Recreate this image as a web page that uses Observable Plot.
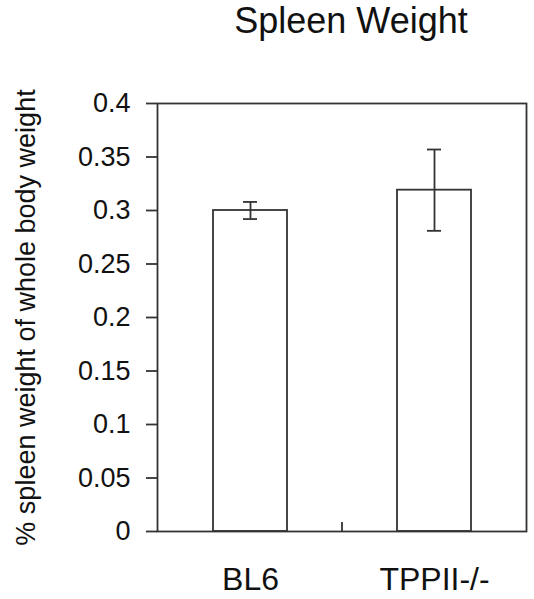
<!DOCTYPE html>
<html>
<head>
<meta charset="utf-8">
<script src="https://cdn.jsdelivr.net/npm/d3@7"></script>
<script src="https://cdn.jsdelivr.net/npm/@observablehq/plot@0.6"></script>
<style>
  html, body { margin: 0; padding: 0; background: #fff; }
  #title { width: 534px; height: 42px; line-height: 42px; box-sizing: border-box;
    padding-left: 168px; text-align: center; font-family: "Liberation Sans", Arial, sans-serif;
    font-size: 36px; color: #111; white-space: nowrap; }
</style>
</head>
<body>
<div id="title"></div>
<div id="chart"></div>
<script>
const title = "Spleen Weight";
const yLabel = "% spleen weight of whole body weight";
const categories = ["BL6", "TPPII-/-"];
const values = [0.300, 0.319];
const errors = [0.008, 0.038];
const yTicks = [0, 0.05, 0.1, 0.15, 0.2, 0.25, 0.3, 0.35, 0.4];

document.getElementById("title").textContent = title;

const data = categories.map((c, i) => ({
  cat: c, value: values[i], lo: values[i] - errors[i], hi: values[i] + errors[i]
}));

const ink = "#333";
const plot = Plot.plot({
  width: 534,
  height: 557,
  marginTop: 61,
  marginBottom: 68,
  marginLeft: 157,
  marginRight: 8,
  style: { fontFamily: "Liberation Sans, Arial, sans-serif", color: "#111", background: "#fff" },
  x: { domain: categories, paddingInner: 0.6, paddingOuter: 0.3, label: null },
  y: { domain: [0, 0.4], label: null },
  marks: [
    Plot.barY(data, { x: "cat", y: "value", fill: "white", stroke: ink, strokeWidth: 1.8 }),
    Plot.ruleX(data, { x: "cat", y1: "lo", y2: "hi", stroke: ink, strokeWidth: 1.8 }),
    Plot.tickY(data, { x: "cat", y: "lo", stroke: ink, strokeWidth: 1.8, insetLeft: 30, insetRight: 30 }),
    Plot.tickY(data, { x: "cat", y: "hi", stroke: ink, strokeWidth: 1.8, insetLeft: 30, insetRight: 30 }),
    Plot.frame({ stroke: ink, strokeWidth: 1.8 }),
    Plot.axisY({ ticks: yTicks, tickFormat: d => d3.format(".2~f")(d), tickSize: 11, tickPadding: 16,
      fontSize: 27, stroke: ink, strokeWidth: 1.8, label: null }),
    Plot.axisX({ tickSize: 0, tickPadding: 36, fontSize: 32, label: null }),
    Plot.text([yLabel], { frameAnchor: "left", rotate: -90, dx: -131, fontSize: 27, fill: "#111",
      textAnchor: "middle", lineAnchor: "middle" })
  ]
});

// category boundary tick on the x axis, derived from the band scale
const xs = plot.scale("x");
const ys = plot.scale("y");
const boundary = (xs.apply(categories[0]) + xs.bandwidth + xs.apply(categories[1])) / 2;
const y0 = ys.apply(0);
d3.select(plot).append("line")
  .attr("x1", boundary).attr("x2", boundary)
  .attr("y1", y0).attr("y2", y0 - 9)
  .attr("stroke", ink).attr("stroke-width", 1.8);

document.getElementById("chart").appendChild(plot);
</script>
</body>
</html>
